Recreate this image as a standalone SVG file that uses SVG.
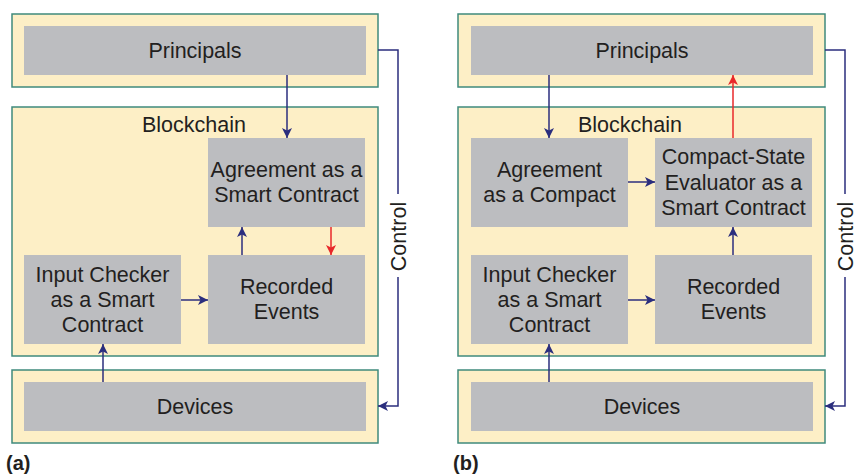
<svg xmlns="http://www.w3.org/2000/svg" width="856" height="474" viewBox="0 0 856 474">
  <style>
    .frame { fill: #fdefc6; stroke: #3f8a7c; stroke-width: 1.5; }
    .box { fill: #bcbdc0; }
    .lbl { font-family: "Liberation Sans", Arial, sans-serif; font-size: 21.5px; fill: #231f20; text-anchor: middle; }
    .tag { font-family: "Liberation Sans", Arial, sans-serif; font-size: 20px; font-weight: bold; fill: #231f20; }
    .wire { fill: none; stroke: #2b2e7e; stroke-width: 1.5; }
    .flow { fill: none; stroke: #2b2e7e; stroke-width: 1.5; marker-end: url(#navy); }
    .hot { fill: none; stroke: #e8282a; stroke-width: 1.5; marker-end: url(#red); }
  </style>
  <defs>
    <marker id="navy" viewBox="0 0 10 10" refX="10" refY="5" markerWidth="10" markerHeight="10" markerUnits="userSpaceOnUse" orient="auto">
      <path d="M0,0 L10,5 L0,10 L2.5,5 Z" fill="#2b2e7e"/>
    </marker>
    <marker id="red" viewBox="0 0 10 10" refX="10" refY="5" markerWidth="10" markerHeight="10" markerUnits="userSpaceOnUse" orient="auto">
      <path d="M0,0 L10,5 L0,10 L2.5,5 Z" fill="#e8282a"/>
    </marker>
  </defs>

  <!-- Panel (a) -->
  <g id="a-principals">
    <rect class="frame" x="12" y="14" width="366" height="73"/>
    <rect class="box" x="24" y="26" width="342" height="49"/>
    <text class="lbl" x="195" y="57.5">Principals</text>
  </g>
  <g id="a-blockchain">
    <rect class="frame" x="12" y="107" width="366" height="249"/>
    <text class="lbl" x="194" y="132">Blockchain</text>
  </g>
  <g id="a-agreement">
    <rect class="box" x="208" y="138" width="157" height="89"/>
    <text class="lbl" x="286.5" y="177">Agreement as a</text>
    <text class="lbl" x="286.5" y="201.5">Smart Contract</text>
  </g>
  <g id="a-input">
    <rect class="box" x="24" y="255" width="157" height="89"/>
    <text class="lbl" x="102.5" y="282">Input Checker</text>
    <text class="lbl" x="102.5" y="307">as a Smart</text>
    <text class="lbl" x="102.5" y="332">Contract</text>
  </g>
  <g id="a-recorded">
    <rect class="box" x="208" y="255" width="157" height="89"/>
    <text class="lbl" x="286.5" y="293.5">Recorded</text>
    <text class="lbl" x="286.5" y="319">Events</text>
  </g>
  <g id="a-devices">
    <rect class="frame" x="12" y="370" width="366" height="73"/>
    <rect class="box" x="24" y="382" width="342" height="49"/>
    <text class="lbl" x="195" y="413.5">Devices</text>
  </g>
  <g id="a-control">
    <text class="lbl" transform="translate(405.5,236.5) rotate(-90)">Control</text>
  </g>
  <text class="tag" x="6" y="470">(a)</text>

  <!-- Panel (b) -->
  <g id="b-principals">
    <rect class="frame" x="458" y="14" width="367" height="73"/>
    <rect class="box" x="471" y="26" width="342" height="49"/>
    <text class="lbl" x="642" y="57.5">Principals</text>
  </g>
  <g id="b-blockchain">
    <rect class="frame" x="458" y="107" width="367" height="249"/>
    <text class="lbl" x="630" y="132">Blockchain</text>
  </g>
  <g id="b-agreement">
    <rect class="box" x="471" y="138" width="157" height="89"/>
    <text class="lbl" x="549.5" y="177">Agreement</text>
    <text class="lbl" x="549.5" y="202">as a Compact</text>
  </g>
  <g id="b-evaluator">
    <rect class="box" x="655" y="138" width="157" height="89"/>
    <text class="lbl" x="733.5" y="164">Compact-State</text>
    <text class="lbl" x="733.5" y="189.5">Evaluator as a</text>
    <text class="lbl" x="733.5" y="215">Smart Contract</text>
  </g>
  <g id="b-input">
    <rect class="box" x="471" y="255" width="157" height="89"/>
    <text class="lbl" x="549.5" y="282">Input Checker</text>
    <text class="lbl" x="549.5" y="307">as a Smart</text>
    <text class="lbl" x="549.5" y="332">Contract</text>
  </g>
  <g id="b-recorded">
    <rect class="box" x="655" y="255" width="157" height="89"/>
    <text class="lbl" x="733.5" y="293.5">Recorded</text>
    <text class="lbl" x="733.5" y="319">Events</text>
  </g>
  <g id="b-devices">
    <rect class="frame" x="458" y="370" width="367" height="73"/>
    <rect class="box" x="471" y="382" width="342" height="49"/>
    <text class="lbl" x="642" y="413.5">Devices</text>
  </g>
  <g id="b-control">
    <text class="lbl" transform="translate(852.5,236.5) rotate(-90)">Control</text>
  </g>
  <text class="tag" x="453" y="470">(b)</text>

  <!-- Connectors -->
  <g id="connectors">
    <!-- (a) -->
    <path class="flow" d="M287,75 V138"/>
    <path class="flow" d="M242,255 V227"/>
    <path class="hot" d="M331,227 V255"/>
    <path class="flow" d="M181,300 H208"/>
    <path class="flow" d="M103,382 V344"/>
    <path class="wire" d="M378,50 H398 V194"/>
    <path class="flow" d="M398,277 V406 H378"/>
    <!-- (b) -->
    <path class="flow" d="M549,75 V138"/>
    <path class="flow" d="M628,182 H655"/>
    <path class="hot" d="M733,138 V75"/>
    <path class="flow" d="M733,255 V227"/>
    <path class="flow" d="M628,300 H655"/>
    <path class="flow" d="M549,382 V344"/>
    <path class="wire" d="M825,50 H845 V194"/>
    <path class="flow" d="M845,277 V406 H825"/>
  </g>
</svg>
